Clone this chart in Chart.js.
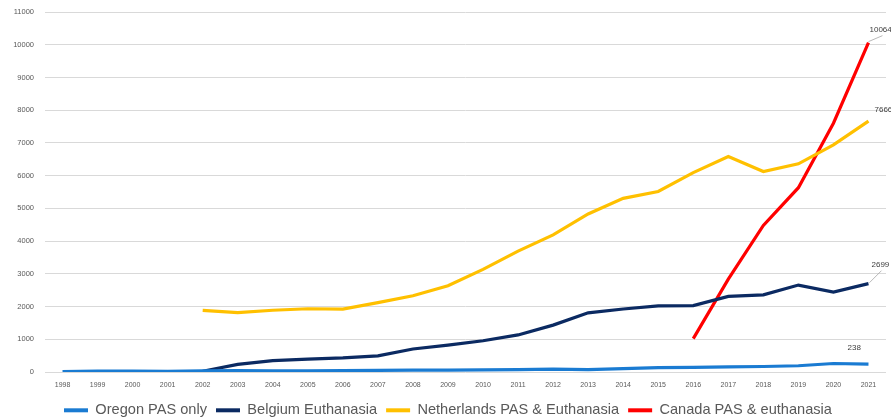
<!DOCTYPE html>
<html>
<head>
<meta charset="utf-8">
<script src="https://cdn.jsdelivr.net/npm/chart.js@4/dist/chart.umd.min.js"></script>
<style>
html,body{margin:0;padding:0;background:#fff;}
#wrap{width:891px;height:419px;position:relative;}
</style>
</head>
<body>
<div id="wrap"><canvas id="c" width="891" height="419"></canvas></div>
<script>
const years = ['1998','1999','2000','2001','2002','2003','2004','2005','2006','2007','2008','2009','2010','2011','2012','2013','2014','2015','2016','2017','2018','2019','2020','2021'];
const oregon = [16,27,27,21,38,42,37,38,46,49,60,59,65,71,85,71,105,135,139,158,168,191,259,238];
const belgium = [null,null,null,null,24,235,349,393,429,495,704,822,954,1133,1432,1807,1924,2022,2028,2309,2357,2656,2444,2699];
const netherlands = [null,null,null,null,1882,1815,1886,1933,1923,2120,2331,2636,3136,3695,4188,4829,5306,5516,6091,6585,6126,6361,6938,7666];
const canada = [null,null,null,null,null,null,null,null,null,null,null,null,null,null,null,null,null,null,1018,2838,4478,5631,7603,10064];
const seriesNames = ['Oregon PAS only','Belgium Euthanasia','Netherlands PAS & Euthanasia','Canada PAS & euthanasia'];
const colors = ['#1a7bd2','#0b2a62','#ffc000','#ff0000'];

const labelPlugin = {
  id: 'endLabels',
  afterDatasetsDraw(chart) {
    const ctx = chart.ctx;
    const last = years.length - 1;
    const specs = [
      {ds: 3, dx: 1, dy: -13, lead: [0, -1, 14, -7]},
      {ds: 2, dx: 6, dy: -11, lead: null},
      {ds: 1, dx: 3, dy: -19, lead: [1, -1, 13, -13]},
      {ds: 0, dx: -21, dy: -16, lead: null}
    ];
    ctx.save();
    ctx.font = '8px "Liberation Sans", Arial, sans-serif';
    ctx.fillStyle = '#404040';
    ctx.textBaseline = 'middle';
    ctx.textAlign = 'left';
    specs.forEach(s => {
      const pt = chart.getDatasetMeta(s.ds).data[last];
      const v = chart.data.datasets[s.ds].data[last];
      if (s.lead) {
        ctx.strokeStyle = '#a6a6a6';
        ctx.lineWidth = 0.8;
        ctx.beginPath();
        ctx.moveTo(pt.x + s.lead[0], pt.y + s.lead[1]);
        ctx.lineTo(pt.x + s.lead[2], pt.y + s.lead[3]);
        ctx.stroke();
      }
      ctx.fillText(String(v), pt.x + s.dx, pt.y + s.dy);
    });
    ctx.restore();
  }
};

const legendFit = {
  id: 'legendFit',
  beforeInit(chart) {
    const lg = chart.legend;
    const orig = lg.fit;
    lg.fit = function () { orig.call(this); this.height = 25; };
  }
};

const ds = [oregon, belgium, netherlands, canada].map((d, i) => ({
  label: seriesNames[i],
  data: d,
  borderColor: colors[i],
  backgroundColor: colors[i],
  borderWidth: 3.2,
  pointRadius: 0,
  tension: 0,
  spanGaps: false
}));

new Chart(document.getElementById('c'), {
  type: 'line',
  data: { labels: years, datasets: ds },
  plugins: [labelPlugin, legendFit],
  options: {
    responsive: false,
    animation: false,
    layout: { padding: { top: 12, right: 5, left: 10, bottom: 0 } },
    plugins: {
      tooltip: { enabled: false },
      legend: {
        position: 'bottom',
        labels: {
          boxWidth: 24,
          boxHeight: 4,
          padding: 9,
          color: '#595959',
          font: { size: 14.6, family: '"Liberation Sans", Arial, sans-serif' },
          generateLabels(chart) {
            return chart.data.datasets.map((d, i) => ({
              text: d.label, fillStyle: d.borderColor, strokeStyle: d.borderColor,
              lineWidth: 0, hidden: false, datasetIndex: i, fontColor: '#595959'
            }));
          }
        }
      }
    },
    scales: {
      x: {
        offset: true,
        afterFit(s) { s.height = 22; },
        grid: { display: false, drawTicks: false },
        border: { display: false },
        ticks: { color: '#595959', font: { size: 7, family: '"Liberation Sans", Arial, sans-serif' }, padding: 9, maxRotation: 0, autoSkip: false }
      },
      y: {
        min: 0, max: 11000,
        afterFit(s) { s.width = 35; },
        grid: { color: '#d9d9d9', lineWidth: 1, drawTicks: true, tickLength: 11, tickColor: 'rgba(0,0,0,0)' },
        border: { display: false },
        ticks: { stepSize: 1000, color: '#595959', padding: 0, callback: v => String(v), font: { size: 7.5, family: '"Liberation Sans", Arial, sans-serif' } }
      }
    }
  }
});
</script>
</body>
</html>
